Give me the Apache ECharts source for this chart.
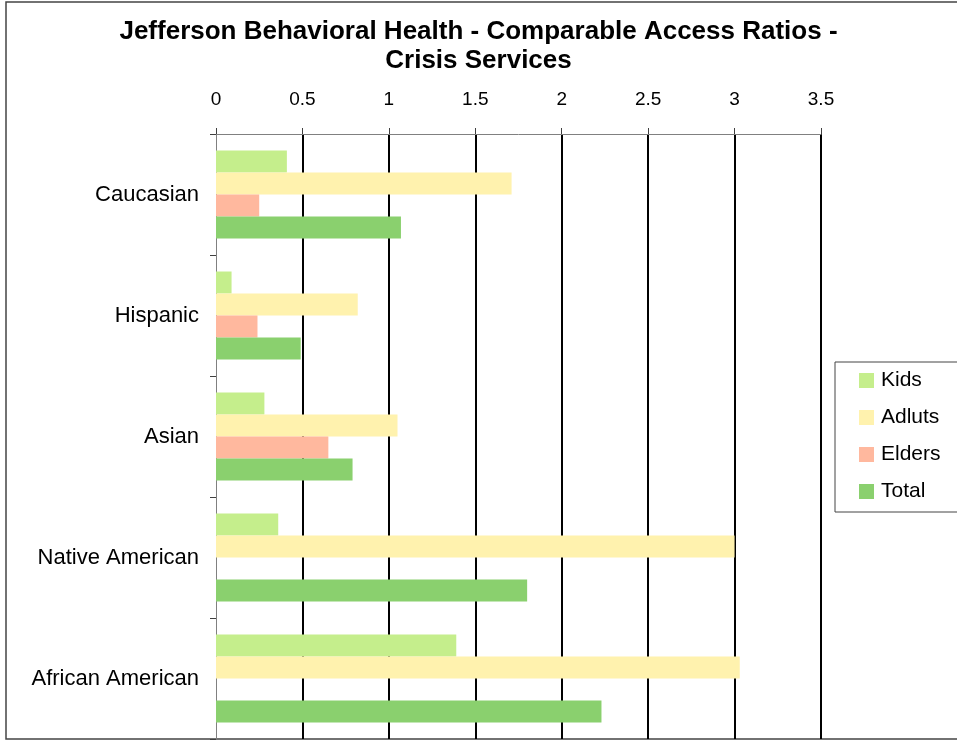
<!DOCTYPE html>
<html>
<head>
<meta charset="utf-8">
<script src="https://cdn.jsdelivr.net/npm/echarts@6/dist/echarts.min.js"></script>
<style>
  html, body { margin: 0; padding: 0; background: #fff; }
  #chart { width: 957px; height: 740px; }
</style>
</head>
<body>
<div id="chart"></div>
<script>
var categories = ['Caucasian', 'Hispanic', 'Asian', 'Native American', 'African American']
var kids = [0.41, 0.09, 0.28, 0.36, 1.39]
var adults = [1.71, 0.82, 1.05, 3.0, 3.03]
var elders = [0.25, 0.24, 0.65, 0, 0]
var total = [1.07, 0.49, 0.79, 1.80, 2.23]

var fontFamily = '"Liberation Sans", Arial, sans-serif'

var chart = echarts.init(document.getElementById('chart'))

function barSeries (name, data, color) {
  return {
    name: name,
    type: 'bar',
    data: data,
    barWidth: 22,
    barGap: '0%',
    itemStyle: { color: color },
    emphasis: { disabled: true }
  }
}

chart.setOption({
  animation: false,
  textStyle: { fontFamily: fontFamily },
  title: {
    text: 'Jefferson Behavioral Health - Comparable Access Ratios -\nCrisis Services',
    left: 'center',
    top: 12,
    textStyle: {
      fontSize: 26,
      fontWeight: 'bold',
      color: '#000',
      lineHeight: 29,
      fontFamily: fontFamily
    }
  },
  legend: {
    orient: 'vertical',
    left: 835,
    top: 362,
    padding: [8, 60, 10, 24],
    itemGap: 16,
    itemWidth: 15,
    itemHeight: 15,
    borderColor: '#444',
    borderWidth: 1,
    icon: 'rect',
    textStyle: { fontSize: 21, color: '#000', padding: [0, 0, 0, 2], fontFamily: fontFamily },
    data: ['Kids', 'Adluts', 'Elders', 'Total']
  },
  grid: {
    left: 216,
    right: 136,
    top: 134,
    bottom: 1,
    containLabel: false
  },
  xAxis: {
    type: 'value',
    position: 'top',
    min: 0,
    max: 3.5,
    interval: 0.5,
    axisLine: { show: true, lineStyle: { color: '#808080', width: 1 } },
    axisTick: { show: true, length: 6, lineStyle: { color: '#404040' } },
    axisLabel: { fontSize: 19, color: '#000', margin: 25, fontFamily: fontFamily },
    splitLine: { show: true, showMinLine: false, lineStyle: { color: '#000', width: 2 } }
  },
  yAxis: {
    type: 'category',
    inverse: true,
    data: categories,
    axisLine: { show: true, lineStyle: { color: '#808080', width: 1 } },
    axisTick: { show: true, length: 6, lineStyle: { color: '#404040' } },
    axisLabel: { fontSize: 22, color: '#000', margin: 17, fontFamily: fontFamily }
  },
  graphic: [{
    type: 'rect',
    shape: { x: 6, y: 2, width: 1000, height: 737 },
    style: { fill: 'none', stroke: '#444', lineWidth: 1.5 },
    silent: true,
    z: -1
  }],
  series: [
    barSeries('Kids', kids, '#c5ee8c'),
    barSeries('Adluts', adults, '#fff2ae'),
    barSeries('Elders', elders, '#ffb89e'),
    barSeries('Total', total, '#8ad06e')
  ]
})
</script>
</body>
</html>
